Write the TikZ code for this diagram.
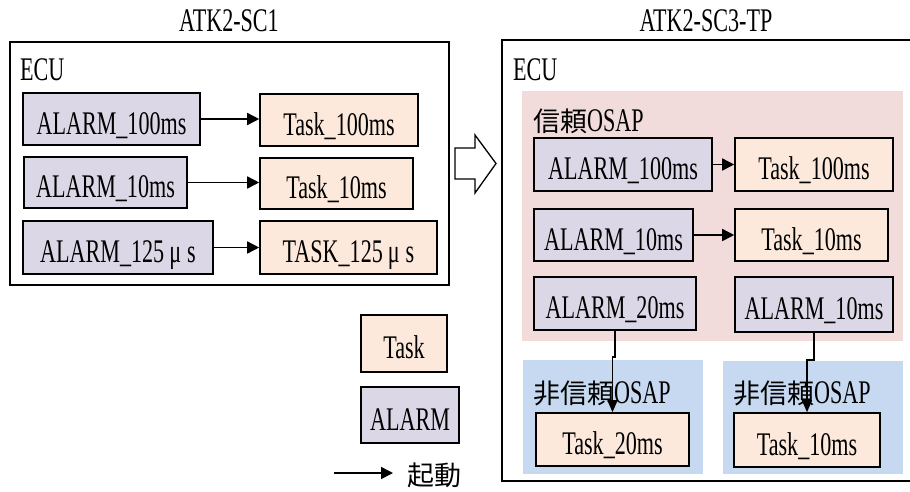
\documentclass[tikz,border=0pt]{standalone}
\usepackage{fontspec}
\setmainfont[FakeStretch=0.67]{Liberation Serif}
\newfontfamily\cjk{Noto Sans CJK JP}
\usetikzlibrary{arrows.meta}
\definecolor{alarmc}{RGB}{220,215,230}
\definecolor{taskc}{RGB}{252,233,219}
\definecolor{pinkc}{RGB}{242,220,219}
\definecolor{bluec}{RGB}{198,217,240}
\newcommand\bodyfont{\fontsize{33}{35}\selectfont}
\newcommand\cjkfont{\cjk\fontsize{27}{30}\selectfont}
% name, style, x1, y1, x2, y2, text
\newcommand\bx[7]{\node[#2, minimum width={#5-#3}, minimum height={#6-#4}] (#1) at ({(#3+#5)/2},{(#4+#6)/2}) {#7};}
\begin{document}
\begin{tikzpicture}[x=1pt, y=-1pt,
  box/.style={draw, line width=1.6pt, inner sep=0pt, font=\bodyfont, text height=30pt, text depth=0pt},
  alarm/.style={box, fill=alarmc},
  task/.style={box, fill=taskc},
  region/.style={draw=none, inner sep=0pt},
  frame/.style={draw, line width=1.6pt},
  arr/.style={line width=1.6pt, -{Triangle[length=12pt,width=12pt]}},
  varr/.style={line width=1.6pt, -{Triangle[length=12pt,width=10pt]}},
  lbl/.style={inner sep=0pt, font=\bodyfont}
]
\useasboundingbox (0,0) rectangle (910,491);

% titles
\node[lbl, anchor=base] (t1) at (229,31) {ATK2-SC1};
\node[lbl, anchor=base] (t2) at (706,31) {ATK2-SC3-TP};

% left ECU
\bx{ecuL}{frame, inner sep=0pt}{10}{42}{449}{285}{}
\node[lbl, anchor=base west] (ecuLl) at (20,80) {ECU};
\bx{la1}{alarm}{23}{93}{200}{145}{ALARM\_100ms}
\bx{lt1}{task}{260}{94}{418}{146}{Task\_100ms}
\bx{la2}{alarm}{24}{157}{187}{208}{ALARM\_10ms}
\bx{lt2}{task}{260}{158}{413}{209}{Task\_10ms}
\bx{la3}{alarm}{23}{221}{213}{274}{ALARM\_125\hspace{5pt}μ\hspace{6pt}s}
\bx{lt3}{task}{260}{221}{437}{274}{TASK\_125\hspace{5pt}μ\hspace{6pt}s}
\draw[arr] (la1.east) -- (la1.east -| lt1.west);
\draw[arr] (la2.east) -- (la2.east -| lt2.west);
\draw[arr] (la3.east) -- (la3.east -| lt3.west);

% hollow block arrow
\draw[line width=1.3pt, fill=white] (455,148) -- (475,148) -- (475,135) -- (496,163.5)
  -- (475,193) -- (475,179) -- (455,179) -- cycle;

% right ECU (right side runs off the picture)
\coordinate (ecuRtr) at (910,40);
\coordinate (ecuRtl) at (502,40);
\coordinate (ecuRbl) at (502,481);
\coordinate (ecuRbr) at (910,481);
\draw[frame] (ecuRtr) -- (ecuRtl) -- (ecuRbl) -- (ecuRbr);
\node[lbl, anchor=base west] (ecuRl) at (513,80) {ECU};

% regions
\bx{trust}{region, fill=pinkc}{522}{91}{903}{341}{}
\bx{ut1}{region, fill=bluec}{523}{360}{703}{474}{}
\bx{ut2}{region, fill=bluec}{723}{361}{903}{474}{}
\node[lbl, anchor=base west] (trustl) at (533,131) {{\cjkfont 信頼}OSAP};
\node[lbl, anchor=base west] (ut1l) at (533,403) {{\cjkfont 非信頼}OSAP};
\node[lbl, anchor=base west] (ut2l) at (733,403) {{\cjkfont 非信頼}OSAP};

% right boxes
\bx{ra1}{alarm}{534}{138}{712}{191}{ALARM\_100ms}
\bx{rt1}{task}{735}{138}{893}{191}{Task\_100ms}
\bx{ra2}{alarm}{534}{209}{693}{261}{ALARM\_10ms}
\bx{rt2}{task}{735}{209}{888}{261}{Task\_10ms}
\bx{ra3}{alarm}{534}{277}{696}{330}{ALARM\_20ms}
\bx{ra4}{alarm}{735}{277}{893}{332}{ALARM\_10ms}
\bx{rt3}{task}{536}{413}{689}{466}{Task\_20ms}
\bx{rt4}{task}{734}{413}{880}{467}{Task\_10ms}
\draw[arr] (ra1.east) -- (ra1.east -| rt1.west);
\draw[arr] (ra2.east) -- (ra2.east -| rt2.west);
\draw[varr] (ra3.south) -- ++(0,26) -| (rt3.north);
\draw[varr] (ra4.south) -- ++(0,27) -| (rt4.north);

% legend
\bx{lgT}{task}{361}{315}{447}{372}{Task}
\bx{lgA}{alarm}{361}{387}{459}{443}{ALARM}
\coordinate (lgs) at (334,473);
\coordinate (lge) at (393,473);
\draw[arr] (lgs) -- (lge);
\node[inner sep=0pt, font=\cjkfont] (lgl) at (434,475) {起動};
\end{tikzpicture}
\end{document}
